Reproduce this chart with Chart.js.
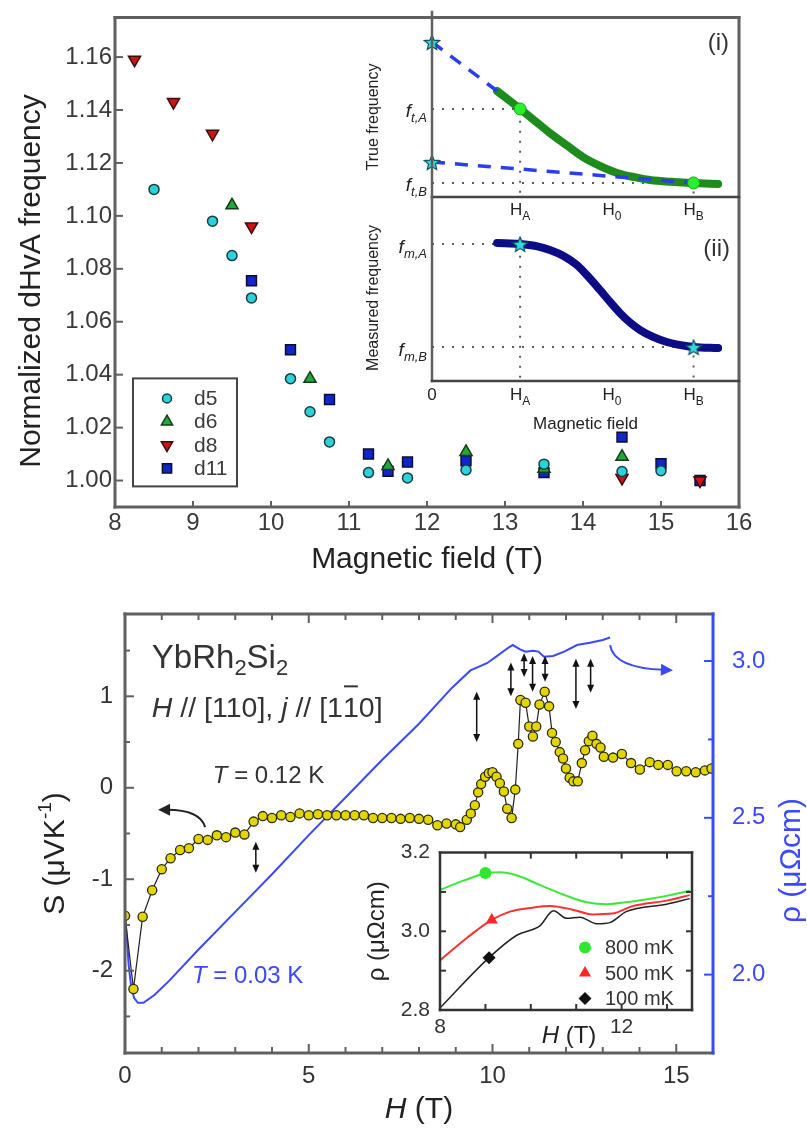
<!DOCTYPE html>
<html>
<head>
<meta charset="utf-8">
<title>dHvA frequencies and thermopower of YbRh2Si2</title>
<script src="https://cdn.jsdelivr.net/npm/chart.js@4.4.1/dist/chart.umd.min.js"></script>
<style>
  html, body { margin: 0; padding: 0; background: #fff; }
  #page { position: relative; width: 807px; height: 1129px; overflow: hidden; }
  canvas { position: absolute; }
</style>
</head>
<body>
<div id="page">
  <canvas id="dhva" width="807" height="580" style="left:0;top:0"></canvas>
  <canvas id="trueFreq" width="447" height="230" style="left:360px;top:0"></canvas>
  <canvas id="measFreq" width="447" height="250" style="left:360px;top:190px"></canvas>
  <canvas id="seebeck" width="807" height="559" style="left:0;top:570px"></canvas>
  <canvas id="rhoInset" width="370" height="230" style="left:340px;top:830px"></canvas>
</div>
<script>
// Upper panel: normalized dHvA frequencies
const fieldTicks = [8, 9, 10, 11, 12, 13, 14, 15, 16];
const freqTicks = [1.00, 1.02, 1.04, 1.06, 1.08, 1.10, 1.12, 1.14, 1.16];

const d5Field = [8.5, 9.25, 9.5, 9.75, 10.25, 10.5, 10.75, 11.25, 11.75, 12.5, 13.5, 14.5, 15.0];
const d5Freq = [1.110, 1.098, 1.085, 1.069, 1.0385, 1.026, 1.0146, 1.003, 1.001, 1.004, 1.0062, 1.0034, 1.0037];
const d6Field = [9.5, 10.5, 11.5, 12.5, 13.5, 14.5];
const d6Freq = [1.104, 1.0385, 1.0055, 1.0108, 1.0045, 1.009];
const d8Field = [8.25, 8.75, 9.25, 9.75, 14.5, 15.5];
const d8Freq = [1.159, 1.143, 1.131, 1.096, 1.001, 1.000];
const d11Field = [9.75, 10.25, 10.75, 11.25, 11.5, 11.75, 12.5, 13.5, 14.5, 15.0, 15.5];
const d11Freq = [1.0755, 1.0494, 1.0306, 1.010, 1.0035, 1.007, 1.0075, 1.003, 1.0164, 1.0064, 1.000];

// Sketch insets (arbitrary units): (i) true and (ii) measured frequency
const hA = 2.87, h0 = 5.86, hB = 8.52;
const ftA = 4.76, ftB = 0.76;
const fmA = 7.45, fmB = 1.85;
const starHigh = 8.38, starLow = 1.89;
const trueH = [2.12, 2.87, 3.35, 3.84, 4.4, 4.92, 5.5, 6.03, 6.6, 7.1, 7.8, 8.52, 9.32];
const trueF = [5.73, 4.76, 4.12, 3.46, 2.78, 2.16, 1.66, 1.30, 1.07, 0.92, 0.82, 0.76, 0.70];
const extHiH = [0, 2.12];
const extHiF = [starHigh, 5.73];
const extLoH = [0, hB];
const extLoF = [starLow, ftB];
const measH = [2.12, 2.87, 3.4, 3.84, 4.3, 4.72, 5.1, 5.47, 5.8, 6.12, 6.45, 6.78, 7.2, 7.65, 8.1, 8.52, 9.32];
const measF = [7.50, 7.45, 7.33, 7.12, 6.78, 6.30, 5.65, 4.95, 4.30, 3.70, 3.18, 2.77, 2.40, 2.12, 1.95, 1.85, 1.79];

// Lower panel: thermopower S (left axis) and resistivity rho (right axis)
const hTicks = [0, 5, 10, 15];
const sTicks = [-2, -1, 0, 1];
const rhoTicks = [2.0, 2.5, 3.0];
const seebeckField = [0.0, 0.23, 0.48, 0.74, 1.0, 1.24, 1.5, 1.74, 2.0, 2.25, 2.5, 2.75, 3.0, 3.25, 3.5, 3.75, 4.0, 4.25, 4.5, 4.75,
  5.0, 5.25, 5.5, 5.75, 6.0, 6.25, 6.5, 6.75, 7.0, 7.25, 7.5, 7.75, 8.0, 8.25, 8.5, 8.75, 9.0, 9.12, 9.3, 9.41,
  9.52, 9.61, 9.69, 9.8, 9.9, 10.0, 10.11, 10.2, 10.31, 10.4, 10.52, 10.62, 10.7, 10.76, 10.9, 11.0, 11.1, 11.19, 11.28, 11.42,
  11.54, 11.62, 11.72, 11.83, 11.92, 12.0, 12.1, 12.2, 12.32, 12.43, 12.52, 12.62, 12.72, 12.83, 12.94, 13.03, 13.28, 13.52, 13.77, 14.01,
  14.28, 14.51, 14.77, 15.01, 15.27, 15.53, 15.78, 15.96];
const seebeckS = [-1.40, -2.20, -1.41, -1.12, -0.89, -0.77, -0.68, -0.66, -0.56, -0.57, -0.52, -0.54, -0.49, -0.51, -0.37, -0.31, -0.33, -0.30, -0.32, -0.28,
  -0.30, -0.29, -0.30, -0.30, -0.30, -0.30, -0.30, -0.33, -0.33, -0.33, -0.34, -0.33, -0.34, -0.35, -0.41, -0.39, -0.40, -0.43, -0.35, -0.28,
  -0.19, -0.05, 0.04, 0.12, 0.16, 0.17, 0.12, 0.05, -0.04, -0.23, -0.33, -0.02, 0.48, 0.96, 0.93, 0.67, 0.56, 0.67, 0.91, 1.05,
  0.89, 0.60, 0.50, 0.39, 0.32, 0.21, 0.11, 0.07, 0.07, 0.27, 0.41, 0.51, 0.57, 0.48, 0.44, 0.34, 0.33, 0.37, 0.27, 0.20,
  0.28, 0.25, 0.25, 0.18, 0.18, 0.17, 0.19, 0.21];
const rhoField = [0, 0.05, 0.1, 0.17, 0.25, 0.35, 0.5, 0.8, 1.2, 2.0, 3.0, 4.0, 5.0, 6.0, 7.0, 8.0, 8.9, 9.4, 9.85, 10.1,
  10.4, 10.55, 10.75, 10.9, 11.1, 11.25, 11.4, 11.65, 11.95, 12.3, 12.65, 13.0, 13.2];
const rhoValue = [2.19, 2.12, 2.03, 1.96, 1.925, 1.91, 1.91, 1.935, 1.98, 2.08, 2.20, 2.32, 2.445, 2.565, 2.685, 2.80, 2.915, 2.97, 2.993, 3.014,
  3.04, 3.051, 3.037, 3.03, 3.033, 3.03, 3.014, 3.016, 3.03, 3.051, 3.058, 3.067, 3.075];

// field-induced transitions (double arrows), in S units
const transitionH = [3.56, 9.57, 10.5, 10.86, 11.09, 11.43, 12.27, 12.67];
const transitionTop = [-0.59, 1.05, 1.37, 1.47, 1.44, 1.44, 1.41, 1.41];
const transitionBottom = [-0.93, 0.50, 1.00, 1.21, 1.05, 1.16, 0.86, 1.04];
// curved pointers to the axes: start, control, tip
const sPointerH = [2.18, 2.04, 0.9];
const sPointerS = [-0.43, -0.24, -0.24];
const rhoPointerH = [13.2, 13.3, 14.91];
const rhoPointerR = [3.051, 2.978, 2.971];

// Inset: rho(H) at three temperatures
const insetHTicks = [8, 12];
const insetRhoTicks = [2.8, 3.0, 3.2];
const rho800H = [8.0, 8.5, 9.0, 9.32, 9.7, 10.04, 10.4, 10.79, 11.23, 11.67, 12.24, 12.6, 12.99, 13.5];
const rho800 = [3.105, 3.128, 3.147, 3.150, 3.142, 3.126, 3.108, 3.090, 3.074, 3.069, 3.076, 3.082, 3.090, 3.103];
const rho500H = [8.0, 8.59, 9.14, 9.54, 10.04, 10.42, 10.92, 11.36, 11.8, 12.24, 12.99, 13.5];
const rho500 = [2.926, 2.983, 3.029, 3.050, 3.060, 3.064, 3.055, 3.043, 3.045, 3.064, 3.078, 3.092];
const rho100H = [8.0, 9.08, 9.69, 10.2, 10.5, 10.79, 11.08, 11.45, 11.74, 12.1, 12.99, 13.5];
const rho100 = [2.805, 2.933, 2.990, 3.014, 3.052, 3.033, 3.036, 3.019, 3.022, 3.050, 3.069, 3.083];
const mark800H = [9.0], mark800 = [3.148];
const mark500H = [9.14], mark500 = [3.029];
const mark100H = [9.08], mark100 = [2.933];

const FONT = '"Liberation Sans", Arial, Helvetica, sans-serif';
const FRAME = '#606060';
const INK = '#222';
const BLUE = '#3a48ff';

Chart.defaults.font.family = FONT;
Chart.defaults.color = INK;
Chart.defaults.animation = false;
Chart.defaults.events = [];
Chart.defaults.responsive = false;
Chart.defaults.plugins.legend.display = false;
Chart.defaults.plugins.tooltip.enabled = false;

function f(size, style) { return (style ? style + ' ' : '') + size + 'px ' + FONT; }
function pts(xs, ys) { return xs.map((x, i) => ({ x: x, y: ys[i] })); }
function fixedTicks(values) { return s => { s.ticks = values.map(v => ({ value: v })); }; }

// a run of differently styled pieces of text, optionally rotated about (x, y)
function richText(ctx, x, y, parts, align, color, rot) {
  ctx.save();
  ctx.translate(x, y);
  if (rot) ctx.rotate(rot);
  ctx.fillStyle = color;
  ctx.strokeStyle = color;
  ctx.textBaseline = 'alphabetic';
  ctx.textAlign = 'left';
  let total = 0;
  parts.forEach(p => { ctx.font = p.font; total += ctx.measureText(p.text).width; });
  let cx = align === 'center' ? -total / 2 : align === 'right' ? -total : 0;
  parts.forEach(p => {
    ctx.font = p.font;
    const w = ctx.measureText(p.text).width;
    ctx.fillText(p.text, cx, p.dy || 0);
    if (p.bar) {
      ctx.lineWidth = 2;
      ctx.beginPath();
      ctx.moveTo(cx + 1, p.bar);
      ctx.lineTo(cx + w - 1, p.bar);
      ctx.stroke();
    }
    cx += w;
  });
  ctx.restore();
}

// box edges with inward tick marks placed through the chart's scales
function drawFrame(chart, edges) {
  const { ctx, chartArea: a, scales } = chart;
  ctx.save();
  edges.forEach(e => {
    const h = e.width / 2;
    ctx.strokeStyle = e.color;
    ctx.lineWidth = e.width;
    ctx.beginPath();
    if (e.side === 'left') { ctx.moveTo(a.left, a.top - h); ctx.lineTo(a.left, a.bottom + h); }
    if (e.side === 'right') { ctx.moveTo(a.right, a.top - h); ctx.lineTo(a.right, a.bottom + h); }
    if (e.side === 'top') { ctx.moveTo(a.left - h, a.top); ctx.lineTo(a.right + h, a.top); }
    if (e.side === 'bottom') { ctx.moveTo(a.left - h, a.bottom); ctx.lineTo(a.right + h, a.bottom); }
    ctx.stroke();
    (e.marks || []).forEach(m => {
      const sc = scales[m.scale];
      ctx.lineWidth = m.width || 2;
      m.values.forEach(v => {
        const p = sc.getPixelForValue(v);
        ctx.beginPath();
        if (e.side === 'left') { ctx.moveTo(a.left, p); ctx.lineTo(a.left + m.len, p); }
        else if (e.side === 'right') { ctx.moveTo(a.right, p); ctx.lineTo(a.right - m.len, p); }
        else if (e.side === 'bottom') { ctx.moveTo(p, a.bottom); ctx.lineTo(p, a.bottom - m.len); }
        else { ctx.moveTo(p, a.top); ctx.lineTo(p, a.top + m.len); }
        ctx.stroke();
      });
    });
  });
  ctx.restore();
}

function arrowHead(ctx, tx, ty, dx, dy, len, half) {
  const n = Math.hypot(dx, dy);
  dx /= n; dy /= n;
  const bx = tx - dx * len, by = ty - dy * len;
  ctx.beginPath();
  ctx.moveTo(tx, ty);
  ctx.lineTo(bx - dy * half, by + dx * half);
  ctx.lineTo(bx + dy * half, by - dx * half);
  ctx.closePath();
  ctx.fill();
}

function curvedPointer(ctx, xs, ys, color) {
  const [p0, c, p1] = [0, 1, 2].map(i => [xs[i], ys[i]]);
  const dx = p1[0] - c[0], dy = p1[1] - c[1];
  const n = Math.hypot(dx, dy);
  ctx.save();
  ctx.strokeStyle = color;
  ctx.fillStyle = color;
  ctx.lineWidth = 2;
  ctx.beginPath();
  ctx.moveTo(p0[0], p0[1]);
  ctx.quadraticCurveTo(c[0], c[1], p1[0] - dx / n * 9, p1[1] - dy / n * 9);
  ctx.stroke();
  arrowHead(ctx, p1[0], p1[1], dx, dy, 12, 6);
  ctx.restore();
}

// filled five-point star used as a point style
function starImage(size, fill, edge) {
  const c = document.createElement('canvas');
  c.width = c.height = size;
  const g = c.getContext('2d');
  const r = size / 2 - 1, ri = r * 0.45, cx = size / 2, cy = size / 2 + 1;
  g.beginPath();
  for (let i = 0; i < 10; i++) {
    const ang = -Math.PI / 2 + i * Math.PI / 5;
    const rr = i % 2 ? ri : r;
    g.lineTo(cx + rr * Math.cos(ang), cy + rr * Math.sin(ang));
  }
  g.closePath();
  g.fillStyle = fill;
  g.fill();
  g.strokeStyle = edge;
  g.lineWidth = 1.2;
  g.stroke();
  return c;
}
const star = starImage(18, '#34d8dc', '#0d4f5c');

const guide = { showLine: true, borderColor: '#5a5a5a', borderWidth: 2, borderDash: [2, 8], pointRadius: 0 };

// ---------- upper panel ----------
new Chart(document.getElementById('dhva'), {
  type: 'scatter',
  data: {
    datasets: [
      { label: 'd5', data: pts(d5Field, d5Freq), pointStyle: 'circle', pointRadius: 5, backgroundColor: '#2bd3d8', borderColor: '#1c3c46', borderWidth: 1.5 },
      { label: 'd6', data: pts(d6Field, d6Freq), pointStyle: 'triangle', pointRadius: 7, backgroundColor: '#20a838', borderColor: '#173a18', borderWidth: 1.5 },
      { label: 'd8', data: pts(d8Field, d8Freq), pointStyle: 'triangle', pointRotation: 180, pointRadius: 7, backgroundColor: '#cc1414', borderColor: '#3c0c0c', borderWidth: 1.5 },
      { label: 'd11', data: pts(d11Field, d11Freq), pointStyle: 'rect', pointRadius: 7, backgroundColor: '#1026c8', borderColor: '#0c0c30', borderWidth: 1.5 }
    ]
  },
  options: {
    layout: { padding: { top: 12, right: 68, left: 0, bottom: 0 } },
    scales: {
      x: {
        type: 'linear', min: 8, max: 16,
        afterBuildTicks: fixedTicks(fieldTicks),
        afterFit: s => { s.height = 73; },
        grid: { display: false, drawTicks: false }, border: { display: false },
        ticks: { padding: 2, color: '#3a3a3a', font: { size: 24 }, autoSkip: false, maxRotation: 0, callback: v => String(v) }
      },
      y: {
        type: 'linear', min: 0.99, max: 1.175,
        afterBuildTicks: fixedTicks(freqTicks),
        afterFit: s => { s.width = 115; },
        grid: { display: false, drawTicks: false }, border: { display: false },
        ticks: { padding: 3, color: '#3a3a3a', font: { size: 24 }, autoSkip: false, callback: v => v.toFixed(2) }
      }
    }
  },
  plugins: [{
    id: 'dhvaDecor',
    afterDraw(chart) {
      const { ctx, chartArea: a } = chart;
      drawFrame(chart, [
        { side: 'top', color: FRAME, width: 3 },
        { side: 'right', color: FRAME, width: 3 },
        { side: 'left', color: FRAME, width: 3, marks: [{ scale: 'y', values: freqTicks, len: 8 }] },
        { side: 'bottom', color: FRAME, width: 3, marks: [{ scale: 'x', values: fieldTicks.slice(1, -1), len: 6 }] }
      ]);
      // legend box
      const bx = a.left + 18, by = a.top + 361;
      ctx.save();
      ctx.strokeStyle = '#444';
      ctx.lineWidth = 2;
      ctx.strokeRect(bx, by, 104, 108);
      chart.data.datasets.forEach((ds, i) => {
        const yy = by + 20 + i * 23.3;
        ctx.fillStyle = ds.backgroundColor;
        ctx.strokeStyle = ds.borderColor;
        ctx.lineWidth = ds.borderWidth;
        Chart.helpers.drawPoint(ctx, { pointStyle: ds.pointStyle, radius: ds.pointRadius - 0.5, rotation: ds.pointRotation || 0, borderWidth: ds.borderWidth }, bx + 34, yy);
        ctx.fillStyle = '#3a3a3a';
        ctx.font = f(21);
        ctx.textBaseline = 'middle';
        ctx.fillText(ds.label, bx + 61, yy + 1);
      });
      ctx.restore();
      // axis titles
      richText(ctx, 40, 281, [{ text: 'Normalized dHvA frequency', font: f(30) }], 'center', INK, -Math.PI / 2);
      richText(ctx, (a.left + a.right) / 2, 568, [{ text: 'Magnetic field (T)', font: f(30) }], 'center', INK);
    }
  }]
});

function freqLabel(ctx, x, y, sub) {
  richText(ctx, x, y, [{ text: 'f', font: f(19, 'italic') }, { text: sub, font: f(13, 'italic'), dy: 5 }], 'right', INK);
}
function fieldLabel(ctx, x, y, sub) {
  richText(ctx, x, y, [{ text: 'H', font: f(17) }, { text: sub, font: f(12), dy: 5 }], 'center', INK);
}

// ---------- inset (i): true frequency ----------
new Chart(document.getElementById('trueFreq'), {
  type: 'scatter',
  data: {
    datasets: [
      { data: pts([0, 0], [starHigh, starLow]), pointStyle: star, clip: false },
      { data: pts([hA, hB], [ftA, ftB]), pointRadius: 6, backgroundColor: '#2bef2b', borderColor: '#1c9c1c', borderWidth: 1 },
      { data: pts(extHiH, extHiF), showLine: true, borderColor: '#2b3df0', borderWidth: 3.5, borderDash: [13, 10], pointRadius: 0 },
      { data: pts(extLoH, extLoF), showLine: true, borderColor: '#2b3df0', borderWidth: 3.5, borderDash: [13, 10], pointRadius: 0 },
      { data: pts(trueH, trueF), showLine: true, borderColor: '#1d8c1d', borderWidth: 8, pointRadius: 0, cubicInterpolationMode: 'monotone', borderCapStyle: 'round' },
      Object.assign({ data: pts([0, hA, hA], [ftA, ftA, 0]) }, guide),
      Object.assign({ data: pts([0, hB, hB], [ftB, ftB, 0]) }, guide)
    ]
  },
  options: {
    layout: { padding: { left: 72, top: 12, right: 68, bottom: 33 } },
    scales: { x: { display: false, min: 0, max: 10 }, y: { display: false, min: 0, max: 10 } }
  },
  plugins: [{
    id: 'trueDecor',
    afterDraw(chart) {
      const { ctx, chartArea: a, scales: { x, y } } = chart;
      drawFrame(chart, [{ side: 'left', color: FRAME, width: 2.5 }, { side: 'bottom', color: '#444', width: 2.5 }]);
      richText(ctx, a.left - 54, a.top + 105, [{ text: 'True frequency', font: f(16) }], 'center', INK, -Math.PI / 2);
      freqLabel(ctx, a.left - 5, y.getPixelForValue(ftA) + 8, 't,A');
      freqLabel(ctx, a.left - 5, y.getPixelForValue(ftB) + 8, 't,B');
      fieldLabel(ctx, x.getPixelForValue(hA), a.bottom + 18, 'A');
      fieldLabel(ctx, x.getPixelForValue(h0), a.bottom + 18, '0');
      fieldLabel(ctx, x.getPixelForValue(hB), a.bottom + 18, 'B');
      richText(ctx, a.right - 10, a.top + 38, [{ text: '(i)', font: f(24) }], 'right', '#333');
    }
  }]
});

// ---------- inset (ii): measured frequency ----------
new Chart(document.getElementById('measFreq'), {
  type: 'scatter',
  data: {
    datasets: [
      { data: pts([hA, hB], [fmA, fmB]), pointStyle: star },
      { data: pts(measH, measF), showLine: true, borderColor: '#0c0c86', borderWidth: 8, pointRadius: 0, cubicInterpolationMode: 'monotone', borderCapStyle: 'round' },
      Object.assign({ data: pts([0, hA, hA], [fmA, fmA, 0]) }, guide),
      Object.assign({ data: pts([0, hB, hB], [fmB, fmB, 0]) }, guide)
    ]
  },
  options: {
    layout: { padding: { left: 72, top: 7, right: 68, bottom: 59 } },
    scales: { x: { display: false, min: 0, max: 10 }, y: { display: false, min: 0, max: 10 } }
  },
  plugins: [{
    id: 'measDecor',
    afterDraw(chart) {
      const { ctx, chartArea: a, scales: { x, y } } = chart;
      drawFrame(chart, [{ side: 'left', color: FRAME, width: 2.5 }, { side: 'bottom', color: '#444', width: 2.5 }]);
      richText(ctx, a.left - 54, a.top + 101, [{ text: 'Measured frequency', font: f(16) }], 'center', INK, -Math.PI / 2);
      freqLabel(ctx, a.left - 5, y.getPixelForValue(fmA) + 9, 'm,A');
      freqLabel(ctx, a.left - 5, y.getPixelForValue(fmB) + 9, 'm,B');
      richText(ctx, x.getPixelForValue(0), a.bottom + 19, [{ text: '0', font: f(17) }], 'center', INK);
      fieldLabel(ctx, x.getPixelForValue(hA), a.bottom + 19, 'A');
      fieldLabel(ctx, x.getPixelForValue(h0), a.bottom + 19, '0');
      fieldLabel(ctx, x.getPixelForValue(hB), a.bottom + 19, 'B');
      richText(ctx, (a.left + a.right) / 2, a.bottom + 48, [{ text: 'Magnetic field', font: f(17) }], 'center', INK);
      richText(ctx, a.right - 9, a.top + 59, [{ text: '(ii)', font: f(24) }], 'right', '#333');
    }
  }]
});

// ---------- lower panel: thermopower and resistivity ----------
const hMinor = [1, 2, 3, 4, 6, 7, 8, 9, 11, 12, 13, 14];
new Chart(document.getElementById('seebeck'), {
  type: 'scatter',
  data: {
    datasets: [
      { data: pts(seebeckField, seebeckS), yAxisID: 'y', showLine: true, borderColor: '#222', borderWidth: 1.2,
        pointRadius: 4.6, pointBackgroundColor: '#e3d500', pointBorderColor: '#2b2b12', pointBorderWidth: 1.3 },
      { data: pts(rhoField, rhoValue), yAxisID: 'y1', showLine: true, borderColor: BLUE, borderWidth: 2, pointRadius: 0 }
    ]
  },
  options: {
    layout: { padding: { top: 44, right: 0, left: 0, bottom: 0 } },
    scales: {
      x: {
        type: 'linear', min: 0, max: 16,
        afterBuildTicks: fixedTicks(hTicks),
        afterFit: s => { s.height = 76; },
        grid: { display: false, drawTicks: false }, border: { display: false },
        ticks: { padding: 9, color: '#333', font: { size: 24 }, autoSkip: false, maxRotation: 0, callback: v => String(v) }
      },
      y: {
        type: 'linear', position: 'left', min: -2.9, max: 1.9,
        afterBuildTicks: fixedTicks(sTicks),
        afterFit: s => { s.width = 125; },
        grid: { display: false, drawTicks: false }, border: { display: false },
        ticks: { padding: 12, color: '#333', font: { size: 24 }, autoSkip: false, callback: v => String(v) }
      },
      y1: {
        type: 'linear', position: 'right', min: 1.75, max: 3.15,
        afterBuildTicks: fixedTicks(rhoTicks),
        afterFit: s => { s.width = 94; },
        grid: { display: false, drawTicks: false }, border: { display: false },
        ticks: { padding: 19, color: BLUE, font: { size: 24 }, autoSkip: false, callback: v => v.toFixed(1) }
      }
    }
  },
  plugins: [{
    id: 'seebeckDecor',
    afterDraw(chart) {
      const { ctx, chartArea: a, scales: { x, y, y1 } } = chart;
      const hMarks = [{ scale: 'x', values: hMinor, len: 6 }, { scale: 'x', values: [5, 10, 15], len: 9 }];
      drawFrame(chart, [
        { side: 'top', color: FRAME, width: 3, marks: hMarks },
        { side: 'bottom', color: FRAME, width: 3, marks: hMarks },
        { side: 'left', color: FRAME, width: 3, marks: [{ scale: 'y', values: sTicks, len: 9 }, { scale: 'y', values: [-2.5, -1.5, -0.5, 0.5, 1.5], len: 5 }] },
        { side: 'right', color: BLUE, width: 3, marks: [{ scale: 'y1', values: rhoTicks, len: 9 }, { scale: 'y1', values: [2.25, 2.75], len: 5 }] }
      ]);

      // transition markers
      ctx.save();
      ctx.strokeStyle = '#111';
      ctx.fillStyle = '#111';
      ctx.lineWidth = 1.5;
      transitionH.forEach((h, i) => {
        const px = x.getPixelForValue(h);
        const t = y.getPixelForValue(transitionTop[i]);
        const b = y.getPixelForValue(transitionBottom[i]);
        ctx.beginPath();
        ctx.moveTo(px, t + 6);
        ctx.lineTo(px, b - 6);
        ctx.stroke();
        arrowHead(ctx, px, t, 0, -1, 8, 3.5);
        arrowHead(ctx, px, b, 0, 1, 8, 3.5);
      });
      ctx.restore();

      curvedPointer(ctx, sPointerH.map(v => x.getPixelForValue(v)), sPointerS.map(v => y.getPixelForValue(v)), '#222');
      curvedPointer(ctx, rhoPointerH.map(v => x.getPixelForValue(v)), rhoPointerR.map(v => y1.getPixelForValue(v)), BLUE);

      // labels
      const lx = x.getPixelForValue(0.73);
      richText(ctx, lx, y.getPixelForValue(1.31), [
        { text: 'YbRh', font: f(33) }, { text: '2', font: f(22), dy: 7 },
        { text: 'Si', font: f(33) }, { text: '2', font: f(22), dy: 7 }
      ], 'left', '#333');
      richText(ctx, lx, y.getPixelForValue(0.77), [
        { text: 'H', font: f(28.5, 'italic') }, { text: ' // [110], ', font: f(28.5) },
        { text: 'j', font: f(28.5, 'italic') }, { text: ' // [1', font: f(28.5) },
        { text: '1', font: f(28.5), bar: -31 }, { text: '0]', font: f(28.5) }
      ], 'left', '#333');
      richText(ctx, x.getPixelForValue(2.39), y.getPixelForValue(0.055), [
        { text: 'T', font: f(24, 'italic') }, { text: ' = 0.12 K', font: f(24) }
      ], 'left', '#333');
      richText(ctx, x.getPixelForValue(1.82), y.getPixelForValue(-2.14), [
        { text: 'T', font: f(24, 'italic') }, { text: ' = 0.03 K', font: f(24) }
      ], 'left', BLUE);

      // axis titles
      const midY = (a.top + a.bottom) / 2;
      richText(ctx, 64, midY + 20, [
        { text: 'S (\u03bcVK', font: f(30) }, { text: '-1', font: f(19), dy: -13 }, { text: ')', font: f(30) }
      ], 'center', INK, -Math.PI / 2);
      richText(ctx, 800, midY + 27, [{ text: '\u03c1 (\u03bc\u03a9cm)', font: f(30) }], 'center', BLUE, -Math.PI / 2);
      richText(ctx, (a.left + a.right) / 2, 548, [
        { text: 'H', font: f(30, 'italic') }, { text: ' (T)', font: f(30) }
      ], 'center', INK);
    }
  }]
});

// ---------- inset: rho(H) at 800, 500 and 100 mK ----------
new Chart(document.getElementById('rhoInset'), {
  type: 'scatter',
  data: {
    datasets: [
      { label: '800 mK', data: pts(mark800H, mark800), pointStyle: 'circle', pointRadius: 6, backgroundColor: '#2ee82e', borderWidth: 0 },
      { label: '500 mK', data: pts(mark500H, mark500), pointStyle: 'triangle', pointRadius: 7, backgroundColor: '#ff2626', borderWidth: 0 },
      { label: '100 mK', data: pts(mark100H, mark100), pointStyle: 'rectRot', pointRadius: 6.5, backgroundColor: '#111', borderWidth: 0 },
      { data: pts(rho800H, rho800), showLine: true, borderColor: '#3ae83a', borderWidth: 2, pointRadius: 0, cubicInterpolationMode: 'monotone' },
      { data: pts(rho500H, rho500), showLine: true, borderColor: '#ff3030', borderWidth: 2, pointRadius: 0, cubicInterpolationMode: 'monotone' },
      { data: pts(rho100H, rho100), showLine: true, borderColor: '#222', borderWidth: 1.5, pointRadius: 0, cubicInterpolationMode: 'monotone' }
    ]
  },
  options: {
    layout: { padding: { top: 12, right: 18, left: 0, bottom: 0 } },
    scales: {
      x: {
        type: 'linear', min: 8, max: 13.55,
        afterBuildTicks: fixedTicks(insetHTicks),
        afterFit: s => { s.height = 50; },
        grid: { display: false, drawTicks: false }, border: { display: false },
        ticks: { padding: 5, color: '#333', font: { size: 21 }, autoSkip: false, maxRotation: 0, callback: v => String(v) }
      },
      y: {
        type: 'linear', min: 2.8, max: 3.2,
        afterBuildTicks: fixedTicks(insetRhoTicks),
        afterFit: s => { s.width = 100; },
        grid: { display: false, drawTicks: false }, border: { display: false },
        ticks: { padding: 10, color: '#333', font: { size: 21 }, autoSkip: false, callback: v => v.toFixed(1) }
      }
    }
  },
  plugins: [{
    id: 'insetDecor',
    beforeDatasetsDraw(chart) {
      const { ctx, chartArea: a } = chart;
      ctx.save();
      ctx.fillStyle = '#fff';
      ctx.fillRect(a.left, a.top, a.right - a.left, a.bottom - a.top);
      ctx.restore();
    },
    afterDraw(chart) {
      const { ctx, chartArea: a } = chart;
      const hMarks = [{ scale: 'x', values: [9, 10, 11, 12, 13], len: 6 }];
      const rMarks = [{ scale: 'y', values: [2.9, 3.0, 3.1], len: 6 }];
      drawFrame(chart, [
        { side: 'top', color: '#333', width: 2.5, marks: hMarks },
        { side: 'bottom', color: '#333', width: 2.5, marks: hMarks },
        { side: 'left', color: '#333', width: 2.5, marks: rMarks },
        { side: 'right', color: '#333', width: 2.5, marks: rMarks }
      ]);
      // legend
      ctx.save();
      chart.data.datasets.slice(0, 3).forEach((ds, i) => {
        const yy = a.top + 95 + i * 25.5;
        ctx.fillStyle = ds.backgroundColor;
        Chart.helpers.drawPoint(ctx, { pointStyle: ds.pointStyle, radius: ds.pointRadius, rotation: 0, borderWidth: 0 }, a.right - 107, yy);
        ctx.fillStyle = '#333';
        ctx.font = f(20);
        ctx.textBaseline = 'middle';
        ctx.fillText(ds.label, a.right - 87, yy + 1);
      });
      ctx.restore();
      richText(ctx, (a.left + a.right) / 2 + 3, a.bottom + 33, [
        { text: 'H', font: f(24, 'italic') }, { text: ' (T)', font: f(24) }
      ], 'center', INK);
      richText(ctx, a.left - 56, (a.top + a.bottom) / 2, [{ text: '\u03c1 (\u03bc\u03a9cm)', font: f(24) }], 'center', INK, -Math.PI / 2);
    }
  }]
});
</script>
</body>
</html>
